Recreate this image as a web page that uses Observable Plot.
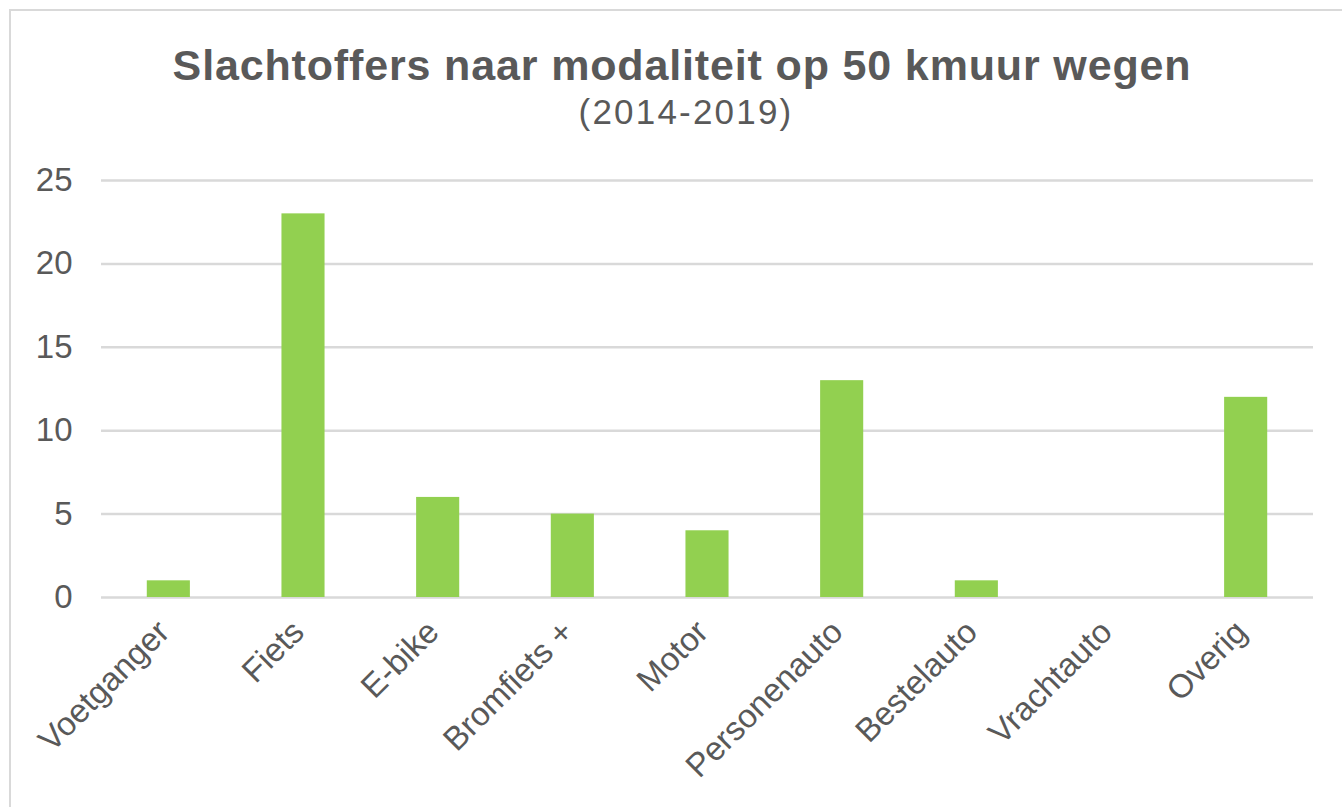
<!DOCTYPE html>
<html>
<head>
<meta charset="utf-8">
<script src="https://cdn.jsdelivr.net/npm/d3@7"></script>
<script src="https://cdn.jsdelivr.net/npm/@observablehq/plot@0.6"></script>
<style>
  html, body { margin: 0; padding: 0; background: #fff; overflow: hidden; }
  body { width: 1342px; height: 807px; position: relative; font-family: "Liberation Sans", Arial, sans-serif; color: #595959; }
  #frame { position: absolute; left: 9px; top: 9px; width: 1400px; height: 900px; border: 2.5px solid #d9d9d9; box-sizing: border-box; }
  #title { position: absolute; left: 0; width: 1364px; top: 44px; text-align: center; font-size: 43px; font-weight: bold; line-height: 43px; letter-spacing: 0.85px; white-space: nowrap; }
  #subtitle { position: absolute; left: 0; width: 1372px; top: 94px; text-align: center; font-size: 35px; line-height: 35px; letter-spacing: 2.2px; white-space: nowrap; }
  #chart { position: absolute; left: 0; top: 0; }
</style>
</head>
<body>
<div id="frame"></div>
<div id="chart"></div>
<div id="title">Slachtoffers naar modaliteit op 50 kmuur wegen</div>
<div id="subtitle">(2014-2019)</div>
<script>
const categories = ["Voetganger", "Fiets", "E-bike", "Bromfiets +", "Motor", "Personenauto", "Bestelauto", "Vrachtauto", "Overig"];
const values = [1, 23, 6, 5, 4, 13, 1, 0, 12];
const yTicks = [0, 5, 10, 15, 20, 25];

const data = categories.map((c, i) => ({category: c, value: values[i]}));

const chart = Plot.plot({
  width: 1342,
  height: 807,
  marginLeft: 101,
  marginRight: 29,
  marginTop: 180,
  marginBottom: 210,
  style: {fontFamily: "'Liberation Sans', Arial, sans-serif", color: "#595959", background: "transparent", overflow: "visible"},
  x: {domain: categories, paddingInner: 0.68, paddingOuter: 0.34, round: false},
  y: {domain: [0, 25]},
  marks: [
    Plot.ruleY(yTicks, {stroke: "#d9d9d9", strokeWidth: 2.5}),
    Plot.barY(data, {x: "category", y: "value", fill: "#92D050"}),
    Plot.axisY({ticks: yTicks, tickSize: 0, tickPadding: 29, fontSize: 33, label: null}),
    Plot.axisX({tickSize: 0, tickRotate: -45, tickPadding: 29, dx: -5, fontSize: 33, label: null})
  ]
});
document.getElementById("chart").appendChild(chart);
</script>
</body>
</html>
